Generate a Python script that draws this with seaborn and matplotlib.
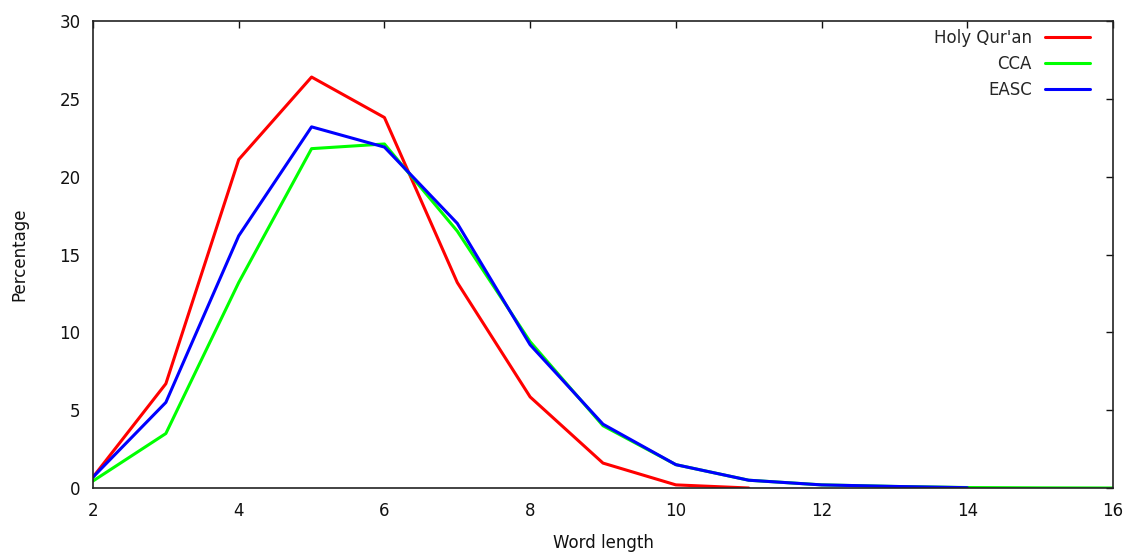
import matplotlib
matplotlib.use("Agg")
import matplotlib.pyplot as plt
import seaborn as sns
import pandas as pd

x_quran = [2, 3, 4, 5, 6, 7, 8, 9, 10, 11]
y_quran = [0.7, 6.7, 21.1, 26.4, 23.8, 13.2, 5.85, 1.6, 0.2, 0.0]
x_cca = [2, 3, 4, 5, 6, 7, 8, 9, 10, 11, 12, 13, 14, 15, 16]
y_cca = [0.45, 3.5, 13.2, 21.8, 22.1, 16.5, 9.4, 4.0, 1.5, 0.5, 0.2, 0.1, 0.03, 0.01, 0.0]
x_easc = [2, 3, 4, 5, 6, 7, 8, 9, 10, 11, 12, 13, 14]
y_easc = [0.7, 5.5, 16.2, 23.2, 21.9, 17.0, 9.2, 4.1, 1.5, 0.5, 0.2, 0.1, 0.02]
series_names = ["Holy Qur'an", "CCA", "EASC"]
series_colors = ["#ff0000", "#00ff00", "#0000ff"]
x_ticks = [2, 4, 6, 8, 10, 12, 14, 16]
y_ticks = [0, 5, 10, 15, 20, 25, 30]

df = pd.concat([
    pd.DataFrame({"x": x_quran, "y": y_quran, "s": series_names[0]}),
    pd.DataFrame({"x": x_cca, "y": y_cca, "s": series_names[1]}),
    pd.DataFrame({"x": x_easc, "y": y_easc, "s": series_names[2]}),
])

sns.set_style("white")
plt.rcParams["font.family"] = ["DejaVu Sans"]

fig = plt.figure(figsize=(11.28, 5.53), dpi=100)
ax = fig.add_axes([93/1128, 1 - 488/553, (1113-93)/1128, (488-21)/553])
sns.lineplot(data=df, x="x", y="y", hue="s", palette=dict(zip(series_names, series_colors)),
             linewidth=2.2, ax=ax, sort=False, estimator=None)
ax.set_xlim(2, 16)
ax.set_ylim(0, 30)
ax.set_xticks(x_ticks)
ax.set_yticks(y_ticks)
ax.tick_params(direction="in", length=5, width=1, top=True, right=True, labelsize=12,
               colors="#111111", pad=9)
ax.tick_params(axis="x", pad=10)
for sp in ax.spines.values():
    sp.set_color("#222222")
    sp.set_linewidth(1.2)
ax.set_xlabel("Word length", fontsize=12, color="#111111", labelpad=10)
ax.set_ylabel("Percentage", fontsize=12, color="#111111", labelpad=22)
leg = ax.legend(loc="upper right", bbox_to_anchor=((1090-93)/1020, 1 - 8/467),
                frameon=False, markerfirst=False, fontsize=12,
                handlelength=2.7, handletextpad=0.8, labelspacing=0.48,
                borderaxespad=0, borderpad=0)
for t in leg.get_texts():
    t.set_ha("right")
fig.savefig("out.png", dpi=100)
